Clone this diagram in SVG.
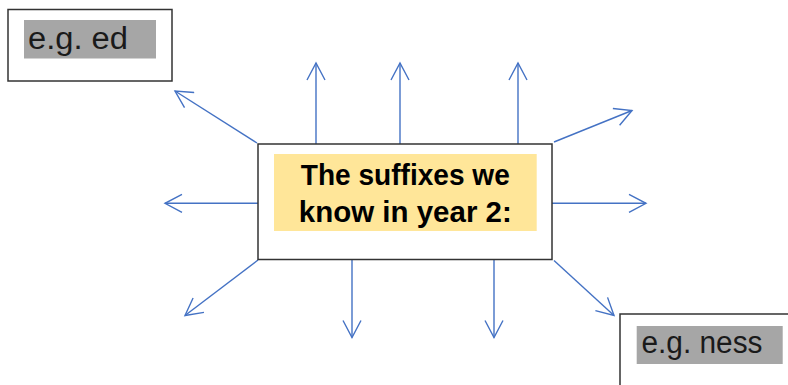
<svg xmlns="http://www.w3.org/2000/svg" width="788" height="385" viewBox="0 0 788 385">
<defs>
<style>
.box{fill:#fff;stroke:#333;stroke-width:1.5}
.hl{fill:#a6a6a6}
.lbl{font-family:"Liberation Sans",Arial,sans-serif;font-size:31px;fill:#1a1a1a}
.title{font-family:"Liberation Sans",Arial,sans-serif;font-size:29px;font-weight:bold;fill:#000;text-anchor:middle}
.arr{stroke:#4472c4;stroke-width:1.4;fill:none;marker-end:url(#ah)}
</style>
<marker id="ah" markerUnits="userSpaceOnUse" viewBox="-18 -10 20 20" refX="0" refY="0" markerWidth="20" markerHeight="20" orient="auto">
<path d="M-17,-9 L0,0 L-17,9" fill="none" stroke="#4472c4" stroke-width="1.4"/>
</marker>
</defs>
<g id="connectors">
<line class="arr" x1="316" y1="144" x2="316" y2="63"/>
<line class="arr" x1="400" y1="144" x2="400" y2="63"/>
<line class="arr" x1="518" y1="144" x2="518" y2="63"/>
<line class="arr" x1="257" y1="143" x2="175" y2="91"/>
<line class="arr" x1="554" y1="142" x2="632" y2="110.5"/>
<line class="arr" x1="258" y1="203.3" x2="165" y2="203.3"/>
<line class="arr" x1="552" y1="203.3" x2="646" y2="203.3"/>
<line class="arr" x1="258" y1="260" x2="185" y2="315.5"/>
<line class="arr" x1="352" y1="260" x2="352" y2="337.5"/>
<line class="arr" x1="494" y1="260" x2="494" y2="337.5"/>
<line class="arr" x1="554" y1="260.5" x2="614" y2="315.5"/>
</g>
<g id="node-ed">
<rect class="box" x="8" y="9.5" width="164" height="71.5"/>
<rect class="hl" x="24" y="20" width="132" height="38.5"/>
<text class="lbl" x="28" y="48.5" textLength="100" lengthAdjust="spacingAndGlyphs">e.g. ed</text>
</g>
<g id="node-center">
<rect class="box" x="258" y="144" width="294" height="115.5"/>
<rect x="274" y="154" width="262.7" height="77" fill="#ffe699"/>
<text class="title" x="405.3" y="185" textLength="209" lengthAdjust="spacingAndGlyphs">The suffixes we</text>
<text class="title" x="405.3" y="222" textLength="213" lengthAdjust="spacingAndGlyphs">know in year 2:</text>
</g>
<g id="node-ness">
<rect class="box" x="620" y="314" width="180" height="90"/>
<rect class="hl" x="636.7" y="326" width="146" height="38"/>
<text class="lbl" x="641.5" y="353" textLength="121" lengthAdjust="spacingAndGlyphs">e.g. ness</text>
</g>
</svg>
